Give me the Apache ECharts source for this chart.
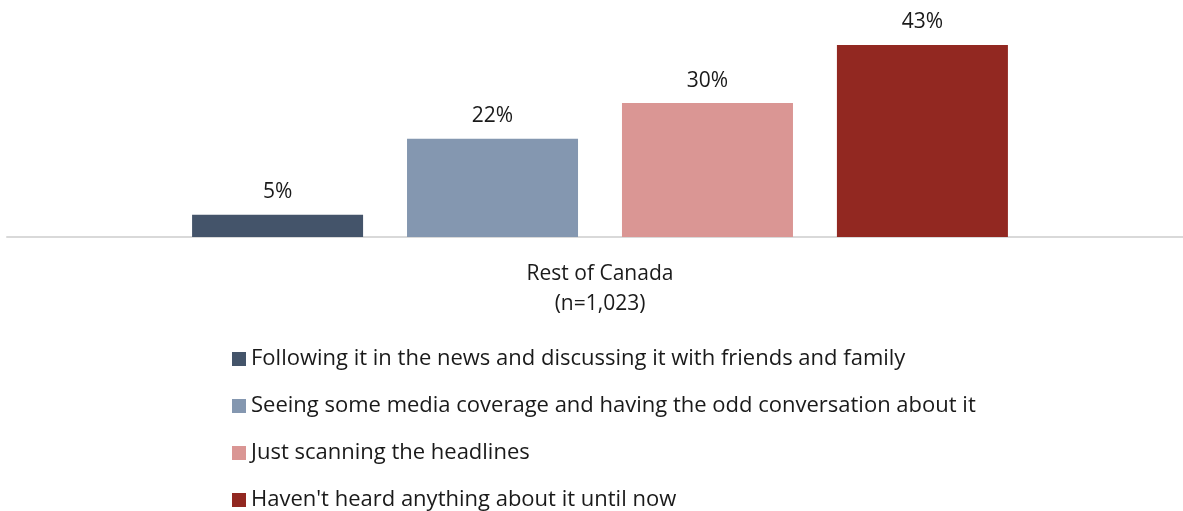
<!DOCTYPE html>
<html>
<head>
<meta charset="utf-8">
<script src="https://cdn.jsdelivr.net/npm/echarts@6/dist/echarts.min.js"></script>
<style>
  html, body { margin: 0; padding: 0; background: #fff; }
  #chart { width: 1183px; height: 511px; }
</style>
</head>
<body>
<div id="chart"></div>
<script>
// Awareness levels, single respondent group
const categories = ['Rest of Canada\n(n=1,023)'];
const seriesNames = [
  'Following it in the news and discussing it with friends and family',
  'Seeing some media coverage and having the odd conversation about it',
  'Just scanning the headlines',
  "Haven't heard anything about it until now"
];
const seriesValues = [[5], [22], [30], [43]];
const seriesColors = ['#44546a', '#8497b0', '#da9694', '#922821'];

const FONT = '"Open Sans", Lato, sans-serif';

const chart = echarts.init(document.getElementById('chart'), null, { renderer: 'canvas' });

chart.setOption({
  animation: false,
  textStyle: { fontFamily: FONT },
  grid: { left: 7, right: -10, top: 45, height: 192, outerBoundsMode: 'none', containLabel: false },
  xAxis: {
    type: 'category',
    data: categories,
    axisLine: { show: true, lineStyle: { color: '#d9d9d9', width: 2 } },
    axisTick: { show: false },
    axisLabel: { fontSize: 21, color: '#1a1a1a', lineHeight: 30, margin: 22, fontFamily: FONT }
  },
  yAxis: {
    type: 'value',
    min: 0,
    max: 43,
    show: false,
    splitLine: { show: false }
  },
  legend: {
    orient: 'vertical',
    left: 232,
    top: 346,
    padding: 0,
    height: 170,
    itemWidth: 14,
    itemHeight: 14,
    itemGap: 21,
    icon: 'rect',
    textStyle: { fontSize: 22, color: '#1a1a1a', fontFamily: FONT, lineHeight: 26 },
    data: seriesNames
  },
  series: seriesNames.map((name, i) => ({
    name,
    type: 'bar',
    data: seriesValues[i],
    barWidth: 171,
    barGap: '25.7%',
    itemStyle: { color: seriesColors[i] },
    label: {
      show: true,
      position: 'top',
      distance: 12,
      formatter: '{c}%',
      fontSize: 21,
      color: '#1a1a1a',
      fontFamily: FONT
    }
  }))
});
</script>
</body>
</html>
